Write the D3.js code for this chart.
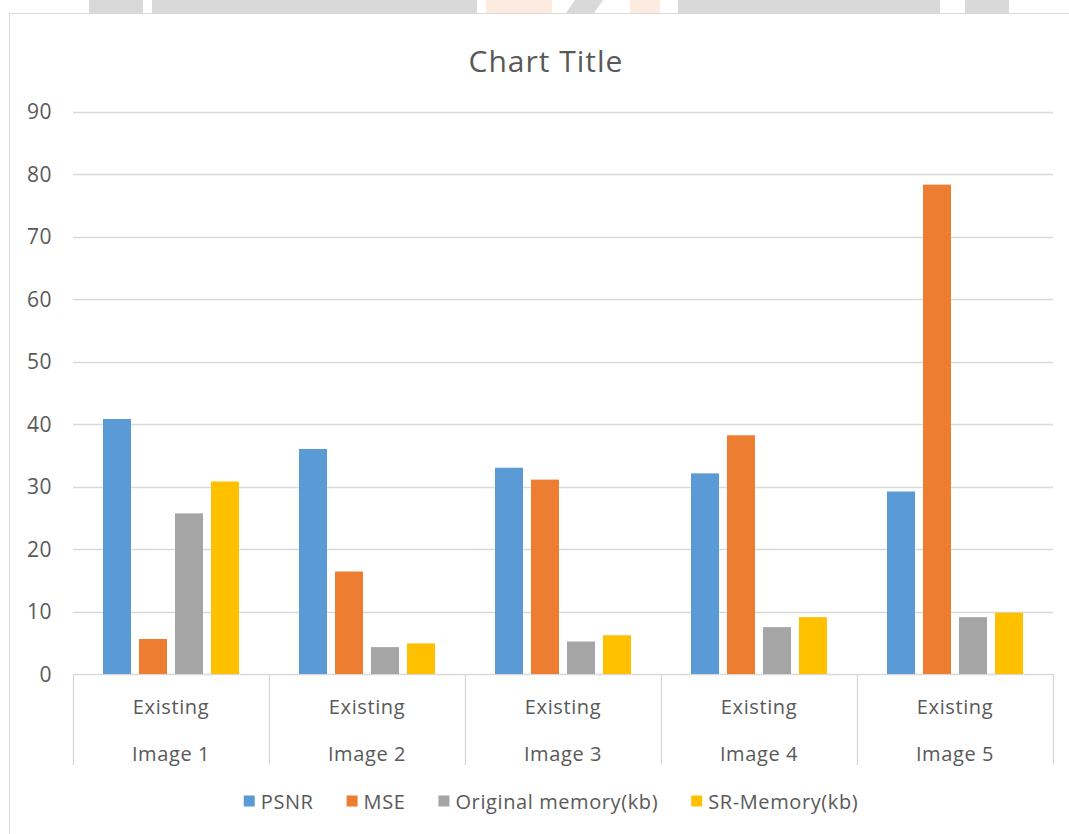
<!DOCTYPE html>
<html>
<head>
<meta charset="utf-8">
<script src="https://cdn.jsdelivr.net/npm/d3@7"></script>
<style>
  html, body { margin: 0; padding: 0; background: #ffffff; }
  svg { display: block; }
  text { font-family: "Open Sans", "Liberation Sans", sans-serif; fill: #595959; }
</style>
</head>
<body>
<svg id="chart" width="1069" height="834"></svg>
<script>
// ---- data ----
const categories = ["Image 1", "Image 2", "Image 3", "Image 4", "Image 5"];
const subLabel = "Existing";
const seriesNames = ["PSNR", "MSE", "Original memory(kb)", "SR-Memory(kb)"];
const psnr = [40.8, 36.0, 33.0, 32.1, 29.2];
const mse = [5.6, 16.4, 31.1, 38.2, 78.3];
const originalMemory = [25.7, 4.3, 5.2, 7.5, 9.1];
const srMemory = [30.8, 4.9, 6.2, 9.1, 9.8];
const yTicks = [0, 10, 20, 30, 40, 50, 60, 70, 80, 90];
const seriesColors = ["#5b9bd5", "#ed7d31", "#a5a5a5", "#ffc000"];
const chartTitle = "Chart Title";

const seriesValues = [psnr, mse, originalMemory, srMemory];

const svg = d3.select("#chart");
const W = 1069, H = 834;
const plot = { left: 73, right: 1053, top: 111.5, bottom: 674 };

// watermark strip at top (background decoration of the source page)
const strip = svg.append("g");
[[89, 54], [152, 325], [678, 262], [965, 44]].forEach(([x, w]) =>
  strip.append("rect").attr("x", x).attr("y", 0).attr("width", w).attr("height", 13).attr("fill", "#d9d9d9"));
[[486, 66], [630, 30]].forEach(([x, w]) =>
  strip.append("rect").attr("x", x).attr("y", 0).attr("width", w).attr("height", 13).attr("fill", "#fdebe0"));
strip.append("path").attr("d", "M575,0 L603,0 L594,13 L566,13 Z").attr("fill", "#d9d9d9");

// frame
svg.append("rect").attr("x", 9.5).attr("y", 13.5).attr("width", W + 10).attr("height", H)
  .attr("fill", "#ffffff").attr("stroke", "#d9d9d9").attr("stroke-width", 1);

// title
svg.append("text").attr("x", 546).attr("y", 60).attr("text-anchor", "middle")
  .attr("dominant-baseline", "central").style("font-size", "30px")
  .style("letter-spacing", "1px").text(chartTitle);

// scales
const y = d3.scaleLinear().domain([0, 90]).range([plot.bottom, plot.top]);
const x0 = d3.scaleBand().domain(categories).range([plot.left, plot.right]).padding(0);
const x1 = d3.scaleBand().domain(seriesNames).range([30, x0.bandwidth() - 30]).paddingInner(8 / 36).paddingOuter(0);
const color = d3.scaleOrdinal().domain(seriesNames).range(seriesColors);

// gridlines
svg.append("g").selectAll("line").data(yTicks).join("line")
  .attr("x1", plot.left).attr("x2", plot.right)
  .attr("y1", d => Math.round(y(d)) + 0.5).attr("y2", d => Math.round(y(d)) + 0.5)
  .attr("stroke", "#d9d9d9").attr("stroke-width", 1.3);

// y axis labels
const yAxis = d3.axisLeft(y).tickValues(yTicks).tickSize(0).tickPadding(0);
const gy = svg.append("g").attr("transform", "translate(52,0)").call(yAxis);
gy.select(".domain").remove();
gy.selectAll("text").style("font-size", "21px").style("font-family", "'Open Sans', sans-serif")
  .style("letter-spacing", "0.5px").attr("fill", "#595959")
  .attr("dy", "0.35em").attr("x", 0);

// bars
const groups = svg.append("g").selectAll("g").data(categories).join("g")
  .attr("transform", d => `translate(${x0(d)},0)`);
groups.selectAll("rect").data((d, i) => seriesNames.map((s, j) => ({ s, v: seriesValues[j][i] })))
  .join("rect")
  .attr("x", d => x1(d.s)).attr("width", x1.bandwidth())
  .attr("y", d => y(d.v)).attr("height", d => y(0) - y(d.v))
  .attr("fill", d => color(d.s));

// category axis: separators
const boundaries = categories.map(c => x0(c)).concat([x0(categories[categories.length - 1]) + x0.bandwidth()]);
svg.append("g").selectAll("line").data(boundaries).join("line")
  .attr("x1", d => d + 0.5).attr("x2", d => d + 0.5)
  .attr("y1", plot.bottom).attr("y2", 765)
  .attr("stroke", "#d9d9d9").attr("stroke-width", 1.3);

// category labels
const catG = svg.append("g");
catG.selectAll("text.sub").data(categories).join("text").attr("class", "sub")
  .attr("x", d => x0(d) + x0.bandwidth() / 2).attr("y", 706)
  .attr("text-anchor", "middle").attr("dominant-baseline", "central")
  .style("font-size", "20px").style("letter-spacing", "0.6px").text(subLabel);
catG.selectAll("text.main").data(categories).join("text").attr("class", "main")
  .attr("x", d => x0(d) + x0.bandwidth() / 2).attr("y", 753)
  .attr("text-anchor", "middle").attr("dominant-baseline", "central")
  .style("font-size", "20px").style("letter-spacing", "0.6px").text(d => d);

// legend
const legend = svg.append("g");
const items = legend.selectAll("g").data(seriesNames).join("g");
items.append("rect").attr("width", 11).attr("height", 11).attr("y", -5.5).attr("fill", d => color(d));
items.append("text").attr("x", 17).attr("dominant-baseline", "central")
  .style("font-size", "20px").style("letter-spacing", "0.6px").text(d => d);
let cx = 0;
const offsets = [];
items.each(function () {
  offsets.push(cx);
  const w = 17 + d3.select(this).select("text").node().getComputedTextLength();
  cx += w + 33;
});
const total = cx - 33;
const startX = 551 - total / 2;
items.attr("transform", (d, i) => `translate(${startX + offsets[i]},801)`);
</script>
</body>
</html>
